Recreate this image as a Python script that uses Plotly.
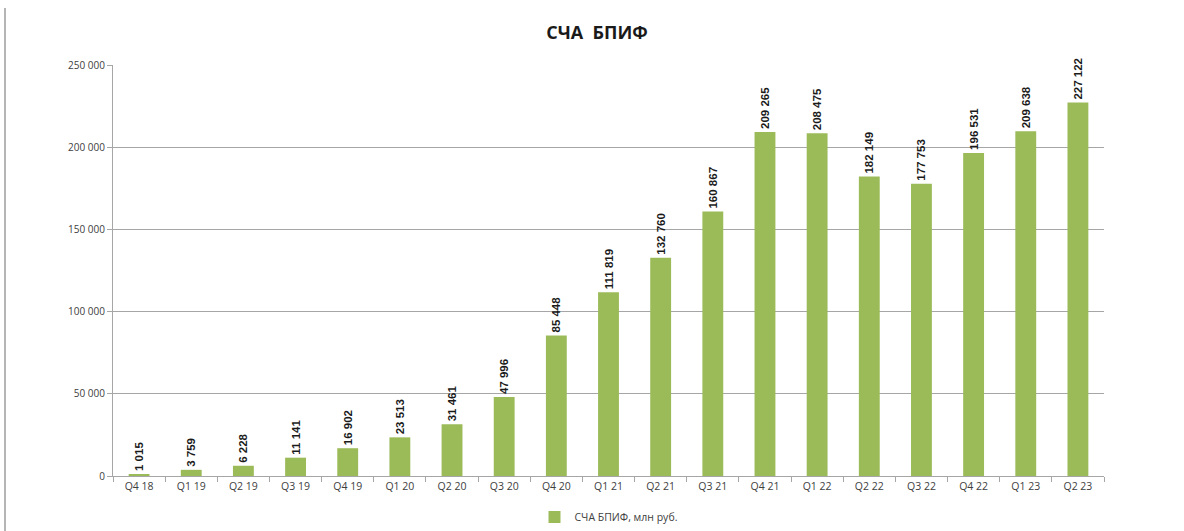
import plotly.graph_objects as go

quarters = ["Q4 18", "Q1 19", "Q2 19", "Q3 19", "Q4 19", "Q1 20", "Q2 20", "Q3 20",
            "Q4 20", "Q1 21", "Q2 21", "Q3 21", "Q4 21", "Q1 22", "Q2 22", "Q3 22",
            "Q4 22", "Q1 23", "Q2 23"]
nav_values = [1015, 3759, 6228, 11141, 16902, 23513, 31461, 47996,
              85448, 111819, 132760, 160867, 209265, 208475, 182149, 177753,
              196531, 209638, 227122]
series_name = "СЧА БПИФ, млн руб."
title_text = "СЧА  БПИФ"
y_ticks = [0, 50000, 100000, 150000, 200000, 250000]

fig = go.Figure()
fig.add_trace(go.Bar(
    x=quarters, y=nav_values, name=series_name,
    marker=dict(color="#9BBB59", line=dict(width=0)),
    texttemplate="%{y:,}", textposition="outside", textangle=-90,
    constraintext="none",
    textfont=dict(family="Liberation Sans Narrow, Arial Narrow, sans-serif", size=11.5, color="#1a1a1a", weight="bold"),
    cliponaxis=False,
))

fig.update_layout(
    width=1184, height=531,
    separators=". ",
    paper_bgcolor="white", plot_bgcolor="white",
    margin=dict(l=113, r=80, t=65, b=55, autoexpand=False),
    bargap=0.6,
    showlegend=True,
    title=dict(text="<b>" + title_text + "</b>", x=597 / 1184, xanchor="center",
               y=1 - 33 / 531, yanchor="middle",
               font=dict(family="Open Sans, sans-serif", size=18, color="#1a1a1a")),
    legend=dict(orientation="h", x=0.5, xanchor="center", y=1 - 517 / 531, yanchor="middle",
                yref="container", itemwidth=30,
                font=dict(family="Open Sans, sans-serif", size=10.5, color="#404040")),
    font=dict(family="Open Sans, sans-serif"),
    shapes=[dict(type="line", xref="paper", yref="paper",
                 x0=(5 - 113) / 991, x1=(5 - 113) / 991,
                 y0=(476 - 8) / 411, y1=(476 - 531) / 411,
                 line=dict(color="#b5b5b5", width=2))],
)

fig.update_xaxes(
    showline=True, linecolor="#a6a6a6", linewidth=1,
    ticks="outside", tickson="boundaries", ticklen=5, tickcolor="#a6a6a6",
    tickfont=dict(family="Open Sans, sans-serif", size=10.5, color="#404040"),
    showgrid=False,
)
fig.update_yaxes(
    range=[0, 250000], tickvals=y_ticks, tickformat=",",
    showline=True, linecolor="#a6a6a6", linewidth=1,
    ticks="outside", ticklen=5, tickcolor="#a6a6a6",
    tickfont=dict(family="Open Sans, sans-serif", size=10, color="#404040"),
    showgrid=True, gridcolor="#a6a6a6", gridwidth=1, zeroline=False,
)

fig.write_html("out.html", config={"displayModeBar": False},
               post_script="document.body.style.margin='0';")
